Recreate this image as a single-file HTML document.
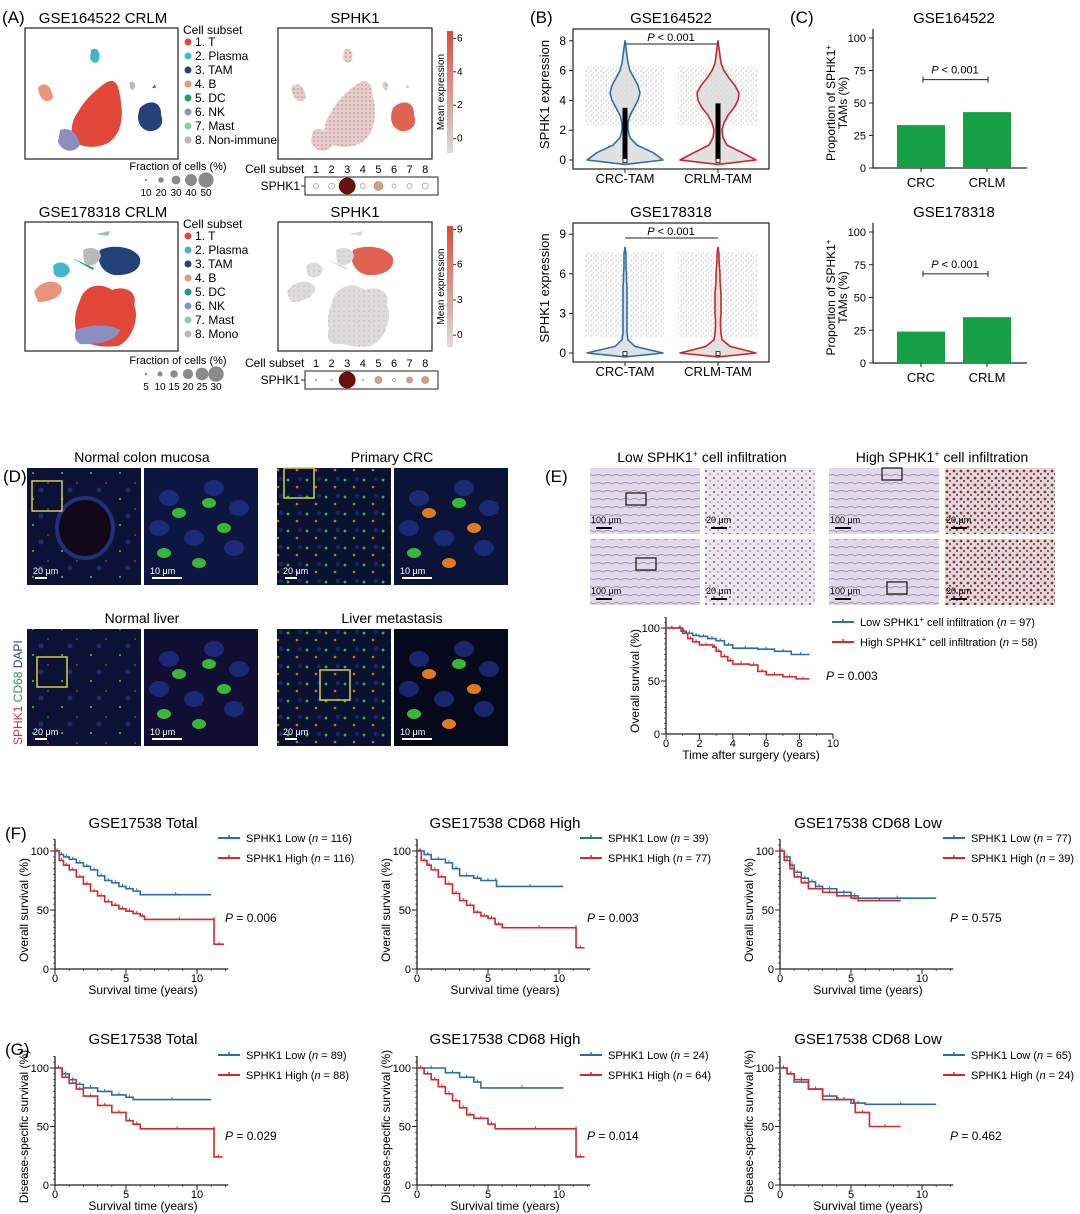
<!DOCTYPE html>
<html><head><meta charset="utf-8"><style>
html,body{margin:0;padding:0;background:#fff}
svg{display:block;font-family:"Liberation Sans",Arial,sans-serif}
</style></head><body>
<svg id="fig" width="1080" height="1214" viewBox="0 0 1080 1214" xmlns="http://www.w3.org/2000/svg">
<defs>
<pattern id="jit" width="5" height="5" patternUnits="userSpaceOnUse"><circle cx="1" cy="1" r="0.55" fill="#666"/><circle cx="3.5" cy="3" r="0.5" fill="#888"/><circle cx="2" cy="4.3" r="0.4" fill="#777"/></pattern>
<pattern id="pinkdots" width="4" height="4" patternUnits="userSpaceOnUse"><rect width="4" height="4" fill="#e4cfcf"/><circle cx="1" cy="1" r="0.6" fill="#d0504a"/></pattern>
<pattern id="greydots" width="5" height="5" patternUnits="userSpaceOnUse"><rect width="5" height="5" fill="#dcdcdc"/><circle cx="1" cy="1" r="0.5" fill="#c87a70"/></pattern>
<pattern id="fluo" width="29" height="26" patternUnits="userSpaceOnUse"><rect width="29" height="26" fill="#0c1236"/><circle cx="4" cy="5" r="1.1" fill="#3fae3a"/><circle cx="19" cy="15" r="0.9" fill="#b83a2a"/><circle cx="12" cy="22" r="2.5" fill="#1c2a70"/></pattern>
<pattern id="fluo2" width="19" height="17" patternUnits="userSpaceOnUse"><rect width="19" height="17" fill="#0a1232"/><circle cx="3" cy="4" r="1.4" fill="#4caf3a"/><circle cx="12" cy="11" r="1.3" fill="#d0702a"/><circle cx="15" cy="3" r="2.2" fill="#16246a"/></pattern>
<pattern id="ihc" width="9" height="8" patternUnits="userSpaceOnUse"><rect width="9" height="8" fill="#e2dae8"/><path d="M0 4 Q4 1 9 4" stroke="#a492c0" stroke-width="1" fill="none"/></pattern>
<pattern id="ihc2" width="8" height="7" patternUnits="userSpaceOnUse"><rect width="8" height="7" fill="#ece6ee"/><circle cx="2" cy="2" r="1" fill="#6b5aa0"/><circle cx="6" cy="5" r="0.8" fill="#9a6b5a"/></pattern>
<pattern id="ihc3" width="7" height="7" patternUnits="userSpaceOnUse"><rect width="7" height="7" fill="#e6d8d8"/><circle cx="2" cy="2" r="1.4" fill="#8a3a20"/><circle cx="5" cy="5" r="1.1" fill="#5a4a9a"/></pattern>
</defs>

<g font-size="15">
<text x="2" y="23" font-size="17">(A)</text>
<text x="103" y="23" text-anchor="middle">GSE164522 CRLM</text>
<text x="355" y="23" text-anchor="middle">SPHK1</text>
<text x="103" y="217" text-anchor="middle">GSE178318 CRLM</text>
<text x="355" y="217" text-anchor="middle">SPHK1</text>
</g>
<g id="umaps"></g>
<g id="dotplots" font-size="11"></g>

<g font-size="15">
<text x="530" y="23" font-size="17">(B)</text>
<text x="671" y="23" text-anchor="middle">GSE164522</text>
<text x="671" y="217" text-anchor="middle">GSE178318</text>
<text x="790" y="23" font-size="17">(C)</text>
<text x="954" y="23" text-anchor="middle">GSE164522</text>
<text x="954" y="217" text-anchor="middle">GSE178318</text>
</g>
<g id="violins" font-size="12"></g>
<g id="bars" font-size="12"></g>

<g id="panelD" font-size="14">
<text x="3" y="482" font-size="17">(D)</text>
<text x="142" y="462" text-anchor="middle">Normal colon mucosa</text>
<text x="392" y="462" text-anchor="middle">Primary CRC</text>
<text x="142" y="623" text-anchor="middle">Normal liver</text>
<text x="392" y="623" text-anchor="middle">Liver metastasis</text>
<text transform="translate(22,745) rotate(-90)" font-size="12"><tspan fill="#d03040">SPHK1 </tspan><tspan fill="#2a9a3a">CD68 </tspan><tspan fill="#2040a0">DAPI</tspan></text>
</g>

<g id="panelE" font-size="14">
<text x="545" y="482" font-size="17">(E)</text>
<text x="702" y="462" text-anchor="middle">Low SPHK1<tspan font-size="9" dy="-5">+</tspan><tspan dy="5"> cell infiltration</tspan></text>
<text x="942" y="462" text-anchor="middle">High SPHK1<tspan font-size="9" dy="-5">+</tspan><tspan dy="5"> cell infiltration</tspan></text>
</g>

<g id="km" font-size="11"></g>
<text x="5" y="839" font-size="17">(F)</text>
<text x="5" y="1055" font-size="17">(G)</text>
</svg>
<script>
// ---------- data ----------
const cellSubsets1 = ["1. T","2. Plasma","3. TAM","4. B","5. DC","6. NK","7. Mast","8. Non-immune"];
const cellSubsets2 = ["1. T","2. Plasma","3. TAM","4. B","5. DC","6. NK","7. Mast","8. Mono"];
const subsetColors = ["#e2483a","#3fb8c9","#24427a","#e8957a","#1d9a78","#8b8fbf","#8cc9a9","#b9b9b9"];
const dotSize1 = [2.5,3,8,2.5,4.5,2,2.5,3];
const dotExpr1 = [0.05,0.05,1,0.05,0.4,0.05,0.05,0.05];
const dotSize2 = [0.8,0.8,8,0.8,3.5,1.5,3,3.5];
const dotExpr2 = [0.1,0.1,1,0.1,0.45,0.3,0.45,0.45];
const fracTicks1 = ["10","20","30","40","50"];
const fracTicks2 = ["5","10","15","20","25","30"];
const cbTicks1 = [0,2,4,6];
const cbTicks2 = [0,3,6,9];

const violinLevels = [0,0.5,1,1.5,2,2.5,3,3.5,4,4.5,5,5.5,6,6.5,7,7.5,8];
const vTopCRC  = [38,28,12,5,3,3,5,9,13,15,13,9,5,3,2,1,0];
const vTopCRLM = [38,24,9,5,4,6,10,16,20,21,17,11,6,3,2,1,0];
const vBotCRC  = [38,10,3,2,2,2,2,2,2,2,2,1.5,1.5,1,1,1,0];
const vBotCRLM = [38,12,4,3,2.5,2.5,3,3,3,3,2.5,2,2,1.5,1,1,0];
const boxTop = [3.5,3.8];
const barCats = ["CRC","CRLM"];
const barTop = [33,43];
const barBot = [24,35];

const kmE_low  = [[0,100],[0.7,100],[0.9,97],[1.2,95],[1.6,93],[2,92],[2.5,90],[3,88],[3.5,84],[4,81],[5.5,80],[6.5,78],[7.5,75],[8.6,75]];
const kmE_high = [[0,100],[0.7,100],[1,95],[1.3,90],[1.6,87],[2,84],[2.8,82],[3,78],[3.3,73],[3.7,69],[4,66],[5,65],[5.5,59],[6,56],[7,54],[7.8,52],[8.6,52]];
const kmF1_low  = [[0,100],[0.3,97],[0.6,95],[1,93],[1.5,90],[2,87],[2.5,84],[3,79],[3.5,75],[4,73],[4.5,70],[5,68],[5.5,66],[6,63],[11,63]];
const kmF1_high = [[0,100],[0.3,92],[0.6,88],[1,84],[1.5,78],[2,72],[2.5,66],[3,62],[3.5,57],[4,54],[4.5,51],[5,49],[5.5,47],[6,45],[6.3,42],[11.2,42],[11.2,21],[11.9,21]];
const kmF2_low  = [[0,100],[0.5,97],[1,93],[2,90],[2.5,85],[3,79],[4,77],[4.5,75],[5.5,75],[5.6,70],[10.3,70]];
const kmF2_high = [[0,100],[0.3,92],[0.7,88],[1,84],[1.5,78],[2,72],[2.5,64],[3,58],[3.5,54],[4,48],[4.5,45],[5,43],[5.5,38],[6,35],[11.2,35],[11.2,18],[11.8,18]];
const kmF3_low  = [[0,100],[0.3,95],[0.7,88],[1,82],[1.5,77],[2,74],[2.5,70],[3,68],[4,65],[5,62],[5.5,60],[11,60]];
const kmF3_high = [[0,100],[0.3,92],[0.7,85],[1,78],[1.5,73],[2,68],[3,65],[4,62],[5,60],[5.5,58],[8.5,58]];
const kmG1_low  = [[0,100],[0.5,95],[1,90],[1.5,86],[2,83],[3,80],[4,77],[5,75],[5.5,73],[11,73]];
const kmG1_high = [[0,100],[0.5,92],[1,87],[1.5,82],[2,76],[3,68],[4,62],[5,55],[5.5,52],[6,48],[11.2,48],[11.2,24],[11.8,24]];
const kmG2_low  = [[0,100],[2,96],[3,92],[4,88],[4.5,83],[10.3,83]];
const kmG2_high = [[0,100],[0.5,95],[1,90],[1.5,84],[2,78],[2.5,72],[3,66],[3.5,60],[4,57],[5,52],[5.5,48],[11.2,48],[11.2,24],[11.8,24]];
const kmG3_low  = [[0,100],[0.5,95],[1,88],[2,82],[3,76],[4,73],[5,70],[6,69],[11,69]];
const kmG3_high = [[0,100],[0.5,95],[1,90],[2,82],[3,73],[5.2,70],[5.3,62],[6.3,50],[8.5,50]];

// ---------- helpers ----------
const NS="http://www.w3.org/2000/svg";
function mk(tag,parent,attrs){const e=document.createElementNS(NS,tag);for(const k in attrs)e.setAttribute(k,attrs[k]);parent.appendChild(e);return e;}
function txt(parent,x,y,s,attrs){const e=mk("text",parent,Object.assign({x:x,y:y},attrs||{}));e.textContent=s;return e;}

// ---------- UMAPs ----------
const U=document.getElementById("umaps");
const blobs1=[[2,"M140 108 C150 98 162 102 161 115 C165 125 158 132 148 131 C138 128 136 118 140 108Z"],
[0,"M78 112 C86 98 96 90 104 84 C112 78 118 80 120 96 C124 116 122 134 108 143 C96 149 80 148 73 140 C70 130 72 120 78 112Z"],
[1,"M91 50 C97 46 101 52 99 60 C97 64 92 64 90 58Z"],[3,"M38 88 C44 80 52 86 53 98 C48 104 40 102 38 88Z"],[5,"M60 130 C70 126 78 134 80 145 C74 154 62 152 58 142Z"],
[7,"M130 82 C135 80 137 86 133 90 C130 90 129 86 130 82Z"],[4,"M152 88 l3 -4 l1 4z"]];
const blobs2=[[0,"M80 300 C85 285 100 282 112 290 C125 285 138 292 134 305 C140 318 132 340 118 346 C100 348 84 345 78 335 C72 322 76 310 80 300Z"],
[5,"M76 330 C90 324 110 324 120 330 C118 340 100 345 80 344 C74 340 74 334 76 330Z"],
[2,"M100 250 C112 244 134 246 140 258 C142 270 130 276 114 275 C102 272 96 262 100 250Z"],
[7,"M83 250 C90 246 100 248 101 256 C98 266 88 268 84 262Z"],[1,"M53 266 C58 260 68 262 70 270 C68 278 58 280 54 274Z"],
[3,"M34 292 C40 280 58 278 62 288 C62 298 48 302 38 302Z"],[6,"M96 234 l14 -3 l-2 5z"],[4,"M72 258 l22 10 l-1 2z"]];
function umap(ox,oy,w,h,blobs,mode,name,dy){
  const g=mk("g",U,{});
  
  
  mk("rect",g,{x:ox,y:oy,width:w,height:h,fill:"#fff",stroke:"#222","stroke-width":1.2});
  const dx=ox-25;
  blobs.forEach(b=>{
    let fill=subsetColors[b[0]];
    if(mode===1){fill=b[0]===2?"#e06352":(dy>0?"url(#greydots)":"url(#pinkdots)");}
    const p=mk("path",g,{d:b[1],fill:fill,transform:"translate("+dx+",0)"});
    
    
  });
}
umap(25,28,153,131,blobs1,0,"umap-gse164522",0);
umap(278,28,154,131,blobs1,1,"umap-sphk1-gse164522",0);
umap(25,222,153,129,blobs2,0,"umap-gse178318",1);
umap(278,222,154,129,blobs2,1,"umap-sphk1-gse178318",1);
function legend(oy,labels){
  const g=mk("g",U,{"font-size":12});
  
  
  txt(g,183,oy,"Cell subset");
  labels.forEach((l,i)=>{const y=oy+12+i*14;
    const c=mk("circle",g,{cx:188,cy:y-4,r:3.5,fill:subsetColors[i]});
    
    
    txt(g,195,y,l);});
}
legend(34,cellSubsets1);legend(228,cellSubsets2);
function colorbar(oy,h,ticks,max,name){
  const g=mk("g",U,{"font-size":10});
  
  
  const gid="cb"+oy;
  const lg=mk("linearGradient",g,{id:gid,x1:0,y1:1,x2:0,y2:0});
  mk("stop",lg,{offset:0,"stop-color":"#dcdcdc"});mk("stop",lg,{offset:1,"stop-color":"#e04a36"});
  mk("rect",g,{x:447,y:oy,width:6,height:h,fill:"url(#"+gid+")"});
  const ys=v=>oy+h-6-(v+0.5)/(max+0.8)*h;
  ticks.forEach(t=>{mk("line",g,{x1:453,x2:456,y1:ys(t),y2:ys(t),stroke:"#333"});txt(g,457,ys(t)+3,String(t));});
  txt(g,0,0,"Mean expression",{transform:"translate(444,"+(oy+h/2)+") rotate(-90)","text-anchor":"middle","font-size":10});
}
colorbar(31,122,cbTicks1,6.5,"colorbar-gse164522");colorbar(226,121,cbTicks2,9.5,"colorbar-gse178318");

const D=document.getElementById("dotplots");
function dotplot(oy,sizes,expr,fticks,fy){
  txt(D,245,oy,"Cell subset",{"font-size":12});
  for(let i=0;i<8;i++)txt(D,316+i*15.6,oy,String(i+1),{"text-anchor":"middle"});
  mk("rect",D,{x:305,y:oy+4,width:133,height:18,fill:"#fff",stroke:"#222"});
  txt(D,300,oy+17,"SPHK1",{"text-anchor":"end","font-size":12});
  mk("line",D,{x1:301,x2:305,y1:oy+13,y2:oy+13,stroke:"#222"});
  sizes.forEach((s,i)=>{
    const e=expr[i];const col=e>0.8?"#6b0f0f":e>0.3?"#e09a7a":"#fff";
    const c=mk("circle",D,{cx:316+i*15.6,cy:oy+13,r:s,fill:col,stroke:e>0.8?"#4a0a0a":"#999","stroke-width":0.7});
    
    
  });
  txt(D,178,fy,"Fraction of cells (%)",{"text-anchor":"middle","font-size":11});
  const n=fticks.length,step=n===5?15:14;
  fticks.forEach((t,i)=>{const x=146+i*step;const r=1.2+i*(n===5?1.6:1.3);
    mk("circle",D,{cx:x,cy:fy+10,r:r,fill:"#8a8a8a"});
    txt(D,x,fy+26,t,{"text-anchor":"middle","font-size":10});});
}
dotplot(173,dotSize1,dotExpr1,fracTicks1,170);
dotplot(367,dotSize2,dotExpr2,fracTicks2,364);

// ---------- Violins ----------
const V=document.getElementById("violins");
function violinPanel(oy0,y0,pxu,ticks,dataC,dataR,boxes,name){
  const g=mk("g",V,{});
  
  
  const ys=v=>y0-v*pxu;
  mk("rect",g,{x:573,y:oy0,width:196,height:(y0+9)-oy0,fill:"#fff",stroke:"#222","stroke-width":1.2});
  [625,718].forEach(cx=>mk("rect",g,{x:cx-40,y:ys(boxes?6.3:7.7),width:80,height:ys(boxes?2.3:1.2)-ys(boxes?6.3:7.7),fill:"url(#jit)",opacity:0.8}));
  ticks.forEach(t=>{mk("line",g,{x1:569,x2:573,y1:ys(t),y2:ys(t),stroke:"#222"});txt(g,566,ys(t)+4,String(t),{"text-anchor":"end"});});
  txt(g,0,0,"SPHK1 expression",{transform:"translate(549,"+((oy0+y0)/2)+") rotate(-90)","text-anchor":"middle","font-size":13});
  [[625,dataC,"#2f6fa8","CRC-TAM"],[718,dataR,"#c8262a","CRLM-TAM"]].forEach((v,k)=>{
    const cx=v[0],d=v[1];
    let p="M"+cx+" "+(ys(-0.3));
    violinLevels.forEach((l,i)=>{p+=" L"+(cx-d[i])+" "+ys(l);});
    for(let i=violinLevels.length-1;i>=0;i--)p+=" L"+(cx+d[i])+" "+ys(violinLevels[i]);
    p+=" L"+cx+" "+ys(-0.3)+" Z";
    const path=mk("path",g,{d:p,fill:"#d9d9d9","fill-opacity":0.8,stroke:v[2],"stroke-width":1.6,"stroke-linejoin":"round"});
    
    
    if(boxes){const b=mk("rect",g,{x:cx-2.5,y:ys(boxes[k]),width:5,height:ys(0)-ys(boxes[k]),fill:"#000"});
      
      }
    mk("rect",g,{x:cx-2,y:ys(0.1),width:4,height:4,fill:"#fff",stroke:"#000","stroke-width":0.8});
    mk("line",g,{x1:cx,x2:cx,y1:y0+9,y2:y0+13,stroke:"#222"});
    txt(g,cx,y0+23,v[3],{"text-anchor":"middle","font-size":13});
  });
  mk("line",g,{x1:625,x2:718,y1:oy0+15,y2:oy0+15,stroke:"#222"});
  const pt=txt(g,671,oy0+12,"",{"text-anchor":"middle","font-size":11});
  pt.innerHTML='<tspan font-style="italic">P</tspan> &lt; 0.001';
}
violinPanel(29,160,14.9,[0,2,4,6,8],vTopCRC,vTopCRLM,boxTop,"violin-gse164522");
violinPanel(223,353,13.2,[0,3,6,9],vBotCRC,vBotCRLM,null,"violin-gse178318");

// ---------- Bars ----------
const B=document.getElementById("bars");
function barPanel(y100,y0,vals,name){
  const g=mk("g",B,{});
  
  
  const ys=v=>y0-(v/100)*(y0-y100);
  mk("line",g,{x1:873,x2:873,y1:ys(107),y2:y0,stroke:"#222","stroke-width":1.2});
  mk("line",g,{x1:873,x2:1027,y1:y0,y2:y0,stroke:"#222","stroke-width":1.2});
  [0,25,50,75,100].forEach(t=>{mk("line",g,{x1:869,x2:873,y1:ys(t),y2:ys(t),stroke:"#222"});txt(g,866,ys(t)+4,String(t),{"text-anchor":"end","font-size":11});});
  const xs=[921,987];
  vals.forEach((v,i)=>{const r=mk("rect",g,{x:xs[i]-24,y:ys(v),width:48,height:y0-ys(v),fill:"#16a046"});
    
    
    mk("line",g,{x1:xs[i],x2:xs[i],y1:y0,y2:y0+4,stroke:"#222"});
    txt(g,xs[i],y0+19,barCats[i],{"text-anchor":"middle","font-size":13});});
  mk("line",g,{x1:923,x2:988,y1:ys(68),y2:ys(68),stroke:"#222"});
  mk("line",g,{x1:923,x2:923,y1:ys(68)-3,y2:ys(68)+3,stroke:"#222"});
  mk("line",g,{x1:988,x2:988,y1:ys(68)-3,y2:ys(68)+3,stroke:"#222"});
  const pt=txt(g,955,ys(68)-6,"",{"text-anchor":"middle","font-size":11});
  pt.innerHTML='<tspan font-style="italic">P</tspan> &lt; 0.001';
  const yl=txt(g,0,0,"",{transform:"translate(835,"+((y0+y100)/2)+") rotate(-90)","text-anchor":"middle","font-size":12});
  yl.innerHTML='<tspan x="0" dy="0">Proportion of SPHK1<tspan font-size="8" dy="-4">+</tspan></tspan><tspan x="0" dy="16">TAMs (%)</tspan>';
}
barPanel(38,168,barTop,"bar-gse164522");
barPanel(232,363,barBot,"bar-gse178318");

// ---------- Panel D images ----------
const PD=document.getElementById("panelD");
const dImgs=[[27,468,"url(#fluo)"],[144,468,"#0c1640"],[277,468,"url(#fluo2)"],[394,468,"#0b1438"],
[27,629,"url(#fluo)"],[144,629,"#110e34"],[277,629,"url(#fluo2)"],[394,629,"#06081c"]];
dImgs.forEach((d,i)=>{
  const r=mk("rect",PD,{x:d[0],y:d[1],width:114,height:117,fill:d[2]});
  
  
  if(i%2===1){
    [[25,30],[70,20],[50,70],[90,80],[15,60],[95,40]].forEach(c=>mk("ellipse",PD,{cx:d[0]+c[0],cy:d[1]+c[1],rx:10,ry:8,fill:"#22389a",opacity:0.65}));
    const hi=i>=2&&i!==5;
    [[35,45],[65,35],[80,60],[20,85],[55,95]].forEach((c,k)=>mk("ellipse",PD,{cx:d[0]+c[0],cy:d[1]+c[1],rx:7,ry:5,fill:hi&&k%2===0?"#e07a20":"#38b838"}));
  }
  const isL=i%2===0;
  mk("line",PD,{x1:d[0]+8,x2:d[0]+(isL?20:38),y1:d[1]+110,y2:d[1]+110,stroke:"#fff","stroke-width":2});
  txt(PD,d[0]+6,d[1]+106,isL?"20 μm":"10 μm",{fill:"#fff","font-size":9});
});
mk("ellipse",PD,{cx:85,cy:528,rx:28,ry:30,fill:"#100818",stroke:"#22307a","stroke-width":4});
[[32,481],[284,468],[37,657],[320,670]].forEach(p=>{const r=mk("rect",PD,{x:p[0],y:p[1],width:30,height:30,fill:"none",stroke:"#d8d040","stroke-width":1.5});
  
  });

// ---------- Panel E images ----------
const PE=document.getElementById("panelE");
const eImgs=[[590,468,"url(#ihc)"],[705,468,"url(#ihc2)"],[829,468,"url(#ihc)"],[945,468,"url(#ihc3)"],
[590,539,"url(#ihc)"],[705,539,"url(#ihc2)"],[829,539,"url(#ihc)"],[945,539,"url(#ihc3)"]];
eImgs.forEach((d,i)=>{
  const r=mk("rect",PE,{x:d[0],y:d[1],width:110,height:66,fill:d[2]});
  
  
  const isL=i%2===0;
  mk("line",PE,{x1:d[0]+6,x2:d[0]+22,y1:d[1]+60,y2:d[1]+60,stroke:"#000","stroke-width":2});
  txt(PE,d[0]+1,d[1]+55,isL?"100 μm":"20 μm",{"font-size":9});
});
[[626,493],[636,558],[882,468],[887,582]].forEach(p=>mk("rect",PE,{x:p[0],y:p[1],width:20,height:12,fill:"none",stroke:"#111","stroke-width":1.2}));

// ---------- KM plots ----------
const K=document.getElementById("km");
function kmPlot(o){
  const g=mk("g",K,{});
  
  
  const xs=t=>o.ox+t*o.px;
  const ys=s=>o.oy-s*o.py;
  mk("line",g,{x1:o.ox,x2:o.ox,y1:ys(110),y2:o.oy,stroke:"#222","stroke-width":1.3});
  mk("line",g,{x1:o.ox,x2:xs(o.xmax),y1:o.oy,y2:o.oy,stroke:"#222","stroke-width":1.3});
  for(let s=0;s<=110;s+=o.minorY)mk("line",g,{x1:o.ox-2,x2:o.ox,y1:ys(s),y2:ys(s),stroke:"#222","stroke-width":0.7});
  [0,50,100].forEach(s=>{mk("line",g,{x1:o.ox-5,x2:o.ox,y1:ys(s),y2:ys(s),stroke:"#222"});txt(g,o.ox-6,ys(s)+4,String(s),{"text-anchor":"end"});});
  for(let t=0;t<=o.xmax;t+=1)mk("line",g,{x1:xs(t),x2:xs(t),y1:o.oy,y2:o.oy+2,stroke:"#222","stroke-width":0.7});
  o.xticks.forEach(t=>{mk("line",g,{x1:xs(t),x2:xs(t),y1:o.oy,y2:o.oy+5,stroke:"#222"});txt(g,xs(t),o.oy+13,String(t),{"text-anchor":"middle"});});
  txt(g,o.ox+o.xlabOff,o.oy+25,o.xlab,{"text-anchor":"middle","font-size":12});
  txt(g,0,0,o.ylab,{transform:"translate("+(o.ox-27)+","+((ys(0)+ys(100))/2)+") rotate(-90)","text-anchor":"middle","font-size":12});
  if(o.title)txt(g,o.ox+88,o.oy-141,o.title,{"text-anchor":"middle","font-size":15});
  [[o.low,"#2a6ea6"],[o.high,"#d42a2a"]].forEach((c,k)=>{
    const pts=c[0];let d="M"+xs(pts[0][0])+" "+ys(pts[0][1]);
    for(let i=1;i<pts.length;i++)d+=" H"+xs(pts[i][0])+" V"+ys(pts[i][1]);
    const p=mk("path",g,{d:d,fill:"none",stroke:c[1],"stroke-width":1.6});
    
    
    for(let i=1;i<pts.length;i++){const t=(pts[i-1][0]+pts[i][0])/2;
      mk("line",g,{x1:xs(t),x2:xs(t),y1:ys(pts[i-1][1])-2.5,y2:ys(pts[i-1][1])+0.5,stroke:c[1]});}
    const ly=o.legY+k*20;
    mk("line",g,{x1:o.legX,x2:o.legX+22,y1:ly,y2:ly,stroke:c[1],"stroke-width":2});
    mk("line",g,{x1:o.legX+11,x2:o.legX+11,y1:ly-3,y2:ly,stroke:c[1],"stroke-width":1.5});
    const lt=txt(g,o.legX+28,ly+4,"");
    lt.innerHTML=o.legText[k];
  });
  const pt=txt(g,o.pX,o.pY,"",{"font-size":12});
  pt.innerHTML='<tspan font-style="italic">P</tspan> = '+o.p;
}
kmPlot({name:"km-panel-e",ox:666,oy:734,px:16.7,py:1.06,xmax:10,minorY:5,xticks:[0,2,4,6,8,10],low:kmE_low,high:kmE_high,
  xlab:"Time after surgery (years)",xlabOff:85,ylab:"Overall survival (%)",legX:832,legY:622,
  legText:['Low SPHK1<tspan font-size="8" dy="-4">+</tspan><tspan dy="4"> cell infiltration (<tspan font-style="italic">n</tspan> = 97)</tspan>','High SPHK1<tspan font-size="8" dy="-4">+</tspan><tspan dy="4"> cell infiltration (<tspan font-style="italic">n</tspan> = 58)</tspan>'],
  pX:826,pY:680,p:"0.003"});
const fTitles=["GSE17538 Total","GSE17538 CD68 High","GSE17538 CD68 Low"];
const fN=[[116,116],[39,77],[77,39]];
const gN=[[89,88],[24,64],[65,24]];
const fP=["0.006","0.003","0.575"];
const gP=["0.029","0.014","0.462"];
const fLow=[kmF1_low,kmF2_low,kmF3_low],fHigh=[kmF1_high,kmF2_high,kmF3_high];
const gLow=[kmG1_low,kmG2_low,kmG3_low],gHigh=[kmG1_high,kmG2_high,kmG3_high];
[55,417,780].forEach((ox,i)=>{
  kmPlot({name:"km-f-"+(i+1),ox:ox,oy:969,px:14.2,py:1.18,xmax:12.2,minorY:5,xticks:[0,5,10],low:fLow[i],high:fHigh[i],title:fTitles[i],
    xlab:"Survival time (years)",xlabOff:88,ylab:"Overall survival (%)",legX:ox+163,legY:838,
    legText:['SPHK1 Low (<tspan font-style="italic">n</tspan> = '+fN[i][0]+')','SPHK1 High (<tspan font-style="italic">n</tspan> = '+fN[i][1]+')'],
    pX:ox+170,pY:922,p:fP[i]});
  kmPlot({name:"km-g-"+(i+1),ox:ox,oy:1185,px:14.2,py:1.17,xmax:12.2,minorY:5,xticks:[0,5,10],low:gLow[i],high:gHigh[i],title:fTitles[i],
    xlab:"Survival time (years)",xlabOff:88,ylab:"Disease-specific survival (%)",legX:ox+163,legY:1055,
    legText:['SPHK1 Low (<tspan font-style="italic">n</tspan> = '+gN[i][0]+')','SPHK1 High (<tspan font-style="italic">n</tspan> = '+gN[i][1]+')'],
    pX:ox+170,pY:1140,p:gP[i]});
});
</script>
</body></html>
